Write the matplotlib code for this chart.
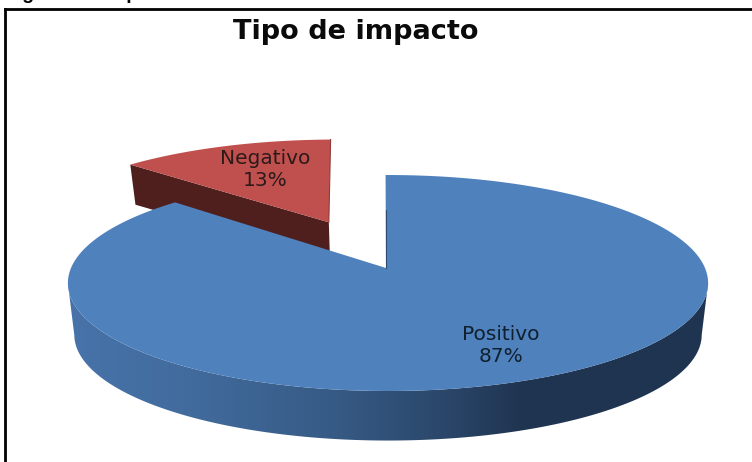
import numpy as np
import matplotlib
matplotlib.use("Agg")
import matplotlib.pyplot as plt
from matplotlib.patches import Polygon
from matplotlib.colors import LinearSegmentedColormap

categories = ["Positivo", "Negativo"]
shares = [87, 13]
title = "Tipo de impacto"
caption = "Figura 10: Impacto de los resultados"
colors = ["#4F81BD", "#C0504D"]

W, H = 752, 462
fig = plt.figure(figsize=(W / 100, H / 100), dpi=100)
ax = fig.add_axes([0, 0, 1, 1])
ax.set_xlim(0, W)
ax.set_ylim(H, 0)
ax.axis("off")

CX, CY, RX, A, K = 388.0, 268.0, 317.0, 105.9, 0.139
S, D, D_RED = 0.98, 52.0, 38.0
ROT_BLUE, ROT_RED = -0.5, -1.1

def top(u, v):
    den = 1 - K * v
    return CX + RX * u / den, CY + A * v / den

def base(u, v, d=D):
    x, y = top(u, v)
    return CX + S * (x - CX), CY + S * (y - CY) + d

def arc(a0, a1, n=300):
    t = np.radians(np.linspace(a0, a1, n))
    return np.sin(t), -np.cos(t)

pos_sweep = 360 * shares[0] / sum(shares)
neg_sweep = 360 * shares[1] / sum(shares)

# exploded Negativo slice
mid = np.radians(pos_sweep + neg_sweep / 2)
ex, ey = 0.5 * np.sin(mid), -0.5 * np.cos(mid)
u, v = arc(pos_sweep + ROT_RED, 360 + ROT_RED)
rim_x, rim_y = top(u + ex, v + ey)
ax_, ay_ = top(ex, ey)
bx0, by0 = base(u[0] + ex, v[0] + ey, D_RED)
bx1, by1 = base(ex, ey, D_RED)
ax.add_patch(Polygon([(rim_x[0], rim_y[0]), (ax_, ay_), (bx1, by1), (bx0, by0)],
                     closed=True, fc="#4E1F1D", ec="none", zorder=2))
ax.add_patch(Polygon(np.r_[[(ax_, ay_)], np.c_[rim_x, rim_y]], closed=True,
                     fc=colors[1], ec="none", zorder=3))
ax.plot([rim_x[-1], ax_], [rim_y[-1], ay_], color="#8F3B39", lw=0.8, zorder=3.1)

# Positivo slice: side wall with gradient
u, v = arc(ROT_BLUE, pos_sweep + ROT_BLUE, 900)
front = v > K
tx, ty = top(u[front], v[front])
bx, by = base(u[front], v[front])
wall = Polygon(np.r_[np.c_[tx, ty], np.c_[bx, by][::-1]], closed=True, fc="none", ec="none")
ax.add_patch(wall)
cmap = LinearSegmentedColormap.from_list(
    "wall", [(0.0, "#4773AA"), (0.18, "#426C9E"), (0.42, "#365A84"),
             (0.6, "#2A4568"), (0.71, "#1F3450"), (1.0, "#1F3450")])
img = ax.imshow(np.linspace(0, 1, 256)[None, :], cmap=cmap, aspect="auto",
                extent=(68, 709, 445, 270), zorder=4)
ax.set_xlim(0, W)
ax.set_ylim(H, 0)
img.set_clip_path(wall)

# Positivo slice: top face
tx, ty = top(u, v)
ax.add_patch(Polygon(np.r_[[(CX - 2, CY)], np.c_[tx, ty]], closed=True,
                     fc=colors[0], ec="none", zorder=5))
ax.plot([CX - 2, CX - 2], [210, CY], color="#2E4B70", lw=0.8, zorder=5.1)

# texts
ax.text(356, 32, title, ha="center", va="center", fontsize=19.5, fontweight="bold",
        family="DejaVu Sans", color="#0A0A0A", zorder=8)
ax.text(265, 170, f"{categories[1]}\n{shares[1]}%", ha="center", va="center", fontsize=14.5,
        family="DejaVu Sans", color="#2A1A1A", linespacing=1.2, zorder=8)
ax.text(500.5, 346, f"{categories[0]}\n{shares[0]}%", ha="center", va="center", fontsize=14.5,
        family="DejaVu Sans", color="#10202F", linespacing=1.2, zorder=8)
ax.text(5, -1, caption, ha="left", va="baseline", fontsize=14, fontweight="bold",
        family="Liberation Sans", color="black", zorder=8)

# frame
ax.plot([4.5, 4.5], [H, 9], color="black", lw=2, zorder=9, solid_capstyle="projecting")
ax.plot([4.5, W], [9, 9], color="black", lw=2, zorder=9)

fig.savefig("out.png", dpi=100)
